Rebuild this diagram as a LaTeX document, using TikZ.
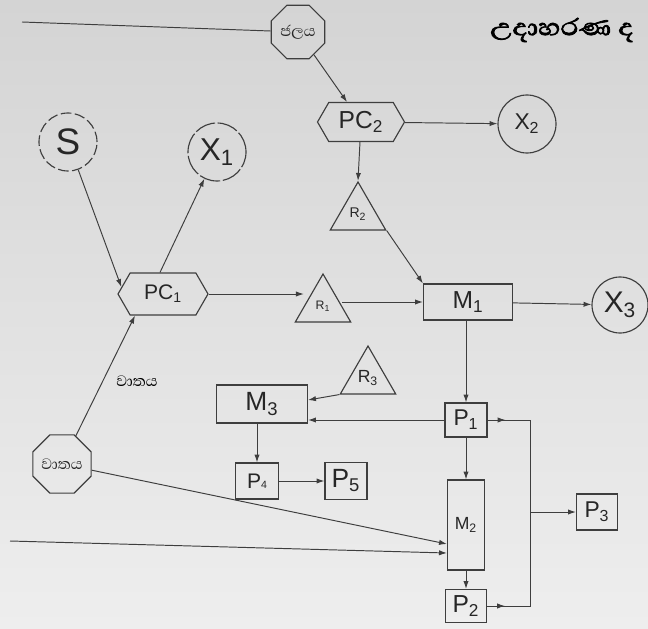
\documentclass[tikz,border=0pt]{standalone}
\usepackage{fontspec}
\setmainfont{Liberation Sans}
\newfontfamily\sinfont[Script=Sinhala]{Abhaya Libre}
\newfontfamily\sinfontbold[Script=Sinhala,FakeBold=2.5,FakeStretch=1.2]{Abhaya Libre}
\usetikzlibrary{shapes.geometric,shapes.symbols,arrows.meta,calc}
\definecolor{inkgray}{RGB}{62,62,62}
\definecolor{papertop}{RGB}{212,212,212}
\definecolor{paperbot}{RGB}{238,238,238}
\def\px{0.02cm}
\newcommand{\fsz}[1]{\fontsize{#1}{#1}\selectfont}

\begin{document}
\begin{tikzpicture}[x={(\px,0cm)}, y={(0cm,-\px)},
  wire/.style={draw=inkgray, line width=0.55pt},
  arr/.style={wire, -{Latex[length=4.5pt,width=3pt]}},
  box/.style={draw=inkgray, line width=0.65pt, rectangle, inner sep=0pt, text=black!85},
  hexa/.style={box, signal, signal to=west and east, signal pointer angle=120},
  octa/.style={box, regular polygon, regular polygon sides=8, minimum size=58*\px},
  tri/.style={box, regular polygon, regular polygon sides=3, minimum size=64*\px},
  outc/.style={box, circle, minimum size=58*\px}]

% paper (photo background)
\useasboundingbox (0,0) rectangle (648,628);
\clip (0,0) rectangle (648,628);
\shade[top color=papertop, bottom color=paperbot] (0,0) rectangle (648,628);

% raw materials
\node[octa] (ocTop) at (298,32) {\sinfont\fsz{11}ජලය};
\node[octa, minimum size=57*\px] (ocBot) at (62,464) {\sinfont\fsz{11}වාතය};
\coordinate (lnA) at (22,22);
\coordinate (lnB) at (10,541);

% inputs and outputs
\node[outc, dash pattern=on 6pt off 2pt] (S) at (68,142) {\fsz{21}S};
\node[outc, dash pattern=on 12pt off 1.5pt] (X1) at (217,152) {\fsz{18}X\textsubscript{1}};
\node[outc] (X2) at (527,124) {\fsz{13}X\textsubscript{2}};
\node[outc, minimum size=56*\px] (X3) at (620,305) {\fsz{17}X\textsubscript{3}};

% processes
\node[hexa, minimum width=90*\px, minimum height=42*\px] (PC1) at (163,294) {\fsz{12}PC\textsubscript{1}};
\node[hexa, minimum width=87*\px, minimum height=39*\px] (PC2) at (361,122) {\fsz{14}PC\textsubscript{2}};

% reagents
\node[tri] (R1) at (323,306) {\fsz{7}R\textsubscript{1}};
\node[tri] (R2) at (358,214) {\fsz{8}R\textsubscript{2}};
\node[tri] (R3) at (368,378) {\fsz{10}R\textsubscript{3}};

% machines and products
\node[box, minimum width=89*\px, minimum height=36*\px] (M1) at (468,302) {\fsz{14}M\textsubscript{1}};
\node[box, minimum width=37*\px, minimum height=90*\px] (M2) at (466,525) {\fsz{10}M\textsubscript{2}};
\node[box, minimum width=91*\px, minimum height=38*\px] (M3) at (262,404) {\fsz{15}M\textsubscript{3}};
\node[box, minimum width=42*\px, minimum height=34*\px] (P1) at (466,420) {\fsz{13}P\textsubscript{1}};
\node[box, minimum width=41*\px, minimum height=33*\px] (P2) at (466,606) {\fsz{14}P\textsubscript{2}};
\node[box, minimum width=41*\px, minimum height=36*\px] (P3) at (597,512) {\fsz{13}P\textsubscript{3}};
\node[box, minimum width=43*\px, minimum height=36*\px] (P4) at (257,481) {\fsz{12}P{\fsz{6}4}};
\node[box, minimum width=42*\px, minimum height=37*\px] (P5) at (346,481) {\fsz{15}P\textsubscript{5}};
\coordinate (bus) at (530,512);

% texts
\node[font=\sinfont\fsz{11}] (lblAir) at (137,381) {වාතය};
\node[anchor=west, font=\sinfontbold\fsz{17}] (hdr) at (484,30) {උදාහරණ ද};

% upper branch
\draw[wire] (lnA) -- (ocTop);
\draw[arr] (ocTop) -- (PC2);
\draw[arr] (PC2) -- (X2);
\draw[arr] (PC2) -- (R2.north);
\draw[arr] (R2.corner 3) -- (M1.north west);

% left branch
\draw[arr] (S) -- ($(PC1.west)+(4,-7)$);
\draw[arr] ($(PC1.north)+(-3,0)$) -- (X1);
\draw[arr] (ocBot) -- ($(PC1.south)+(-28,0)$);
\draw[arr] (PC1.east) -- (PC1.east -| R1.west);
\draw[arr] (R1.east |- M1.west) -- (M1.west);
\draw[arr] (M1) -- (X3);

% lower part
\draw[arr] (M1.south -| P1) -- (P1.north);
\draw[arr] (P1) -- (M2);
\draw[arr] (M2) -- (P2);
\draw[arr] (P1.west) -- (P1.west -| M3.east);
\draw[arr] (R3.corner 2) -- ($(M3.east)+(0,-4)$);
\draw[arr] (M3.south -| P4) -- (P4.north);
\draw[arr] (P4) -- (P5);
\draw[arr] (ocBot) -- ($(M2.west)+(0,19)$);
\draw[arr] (lnB) -- ($(M2.west)+(0,28)$);

% collector to P3
\draw[wire] (P1.east) -- (P1.east -| bus) -- (P2.east -| bus) -- (P2.east);
\draw[arr] (P1.east) -- ++(18,0);
\draw[arr] (P2.east) -- ++(18,0);
\draw[arr] (bus) -- (P3.west);
\end{tikzpicture}
\end{document}
